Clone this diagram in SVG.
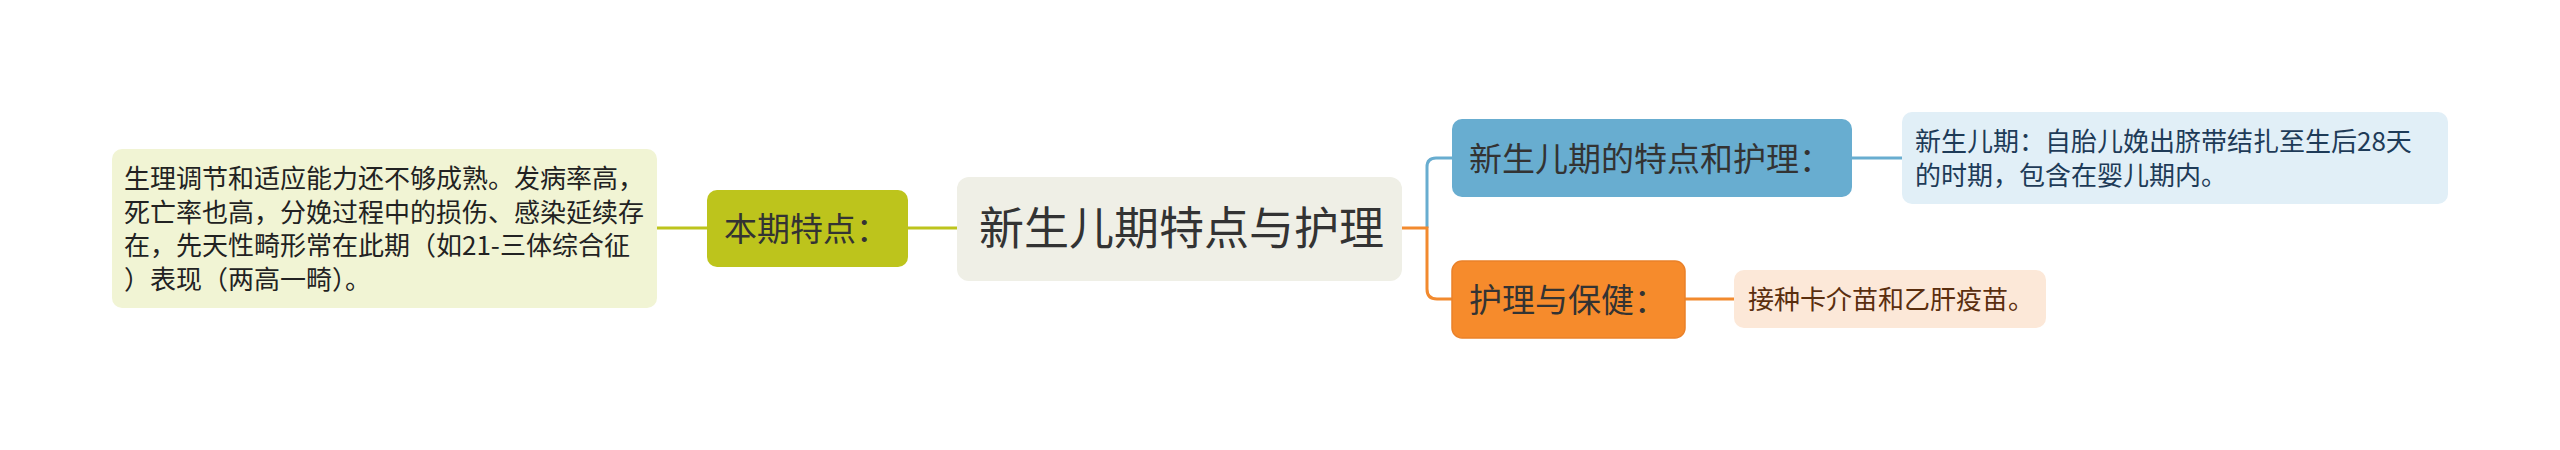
<svg xmlns="http://www.w3.org/2000/svg" width="2560" height="450" viewBox="0 0 2560 450">
<style>
text{font-family:"Noto Sans CJK SC","Noto Sans",sans-serif;}
.conn{fill:none;stroke-width:3;stroke-linecap:butt;}
.olive{stroke:#BDC41C;}
.blue{stroke:#68ADD0;}
.orange{stroke:#F28A2E;}
.t26{font-size:26px;}
.t33{font-size:33px;fill:#333333;}
</style>
<rect width="2560" height="450" fill="#FFFFFF"/>
<g id="connectors">
<path class="conn olive" d="M657,228 L707,228"/>
<path class="conn olive" d="M908,228 L957,228"/>
<path class="conn blue" d="M1427,228 L1427,167 Q1427,158 1436,158 L1452,158"/>
<path class="conn orange" d="M1402,228 L1427,228 L1427,289 Q1427,299 1437,299 L1452,299"/>
<path class="conn blue" d="M1852,158 L1902,158"/>
<path class="conn orange" d="M1685,299 L1734,299"/>
</g>
<g id="root">
<rect x="957" y="177" width="445" height="104" rx="12" fill="#EFEFE6"/>
<text x="979" y="245" font-size="45" fill="#333333">新生儿期特点与护理</text>
</g>
<g id="node-benqi">
<rect x="707" y="190" width="201" height="77" rx="10" fill="#BDC41C"/>
<text class="t33" x="724" y="241">本期特点：</text>
</g>
<g id="node-benqi-detail">
<rect x="112" y="149" width="545" height="159" rx="10" fill="#F1F4D4"/>
<text class="t26" fill="#222222">
<tspan x="124" y="188">生理调节和适应能力还不够成熟。发病率高，</tspan>
<tspan x="124" y="221.7">死亡率也高，分娩过程中的损伤、感染延续存</tspan>
<tspan x="124" y="255.4">在，先天性畸形常在此期（如21-三体综合征</tspan>
<tspan x="124" y="289">）表现（两高一畸）。</tspan>
</text>
</g>
<g id="node-tedian">
<rect x="1452" y="119" width="400" height="78" rx="10" fill="#68ADD0"/>
<text class="t33" x="1469" y="171">新生儿期的特点和护理：</text>
</g>
<g id="node-tedian-detail">
<rect x="1902" y="112" width="546" height="92" rx="10" fill="#E1EFF7"/>
<text class="t26" fill="#1E3B58">
<tspan x="1915" y="151">新生儿期：自胎儿娩出脐带结扎至生后28天</tspan>
<tspan x="1915" y="185">的时期，包含在婴儿期内。</tspan>
</text>
</g>
<g id="node-huli">
<rect x="1452" y="261" width="233" height="77" rx="10" fill="#F68B2C" stroke="#EA8129" stroke-width="1.5"/>
<text class="t33" x="1469" y="312">护理与保健：</text>
</g>
<g id="node-huli-detail">
<rect x="1734" y="270" width="312" height="58" rx="10" fill="#FCE8D8"/>
<text class="t26" x="1748" y="309" fill="#5A2E0E">接种卡介苗和乙肝疫苗。</text>
</g>
</svg>
